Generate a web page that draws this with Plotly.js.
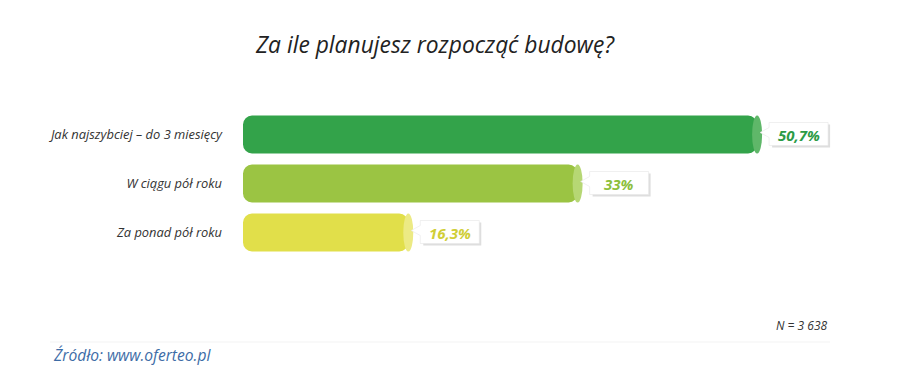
<!DOCTYPE html>
<html>
<head>
<meta charset="utf-8">
<script src="https://cdn.plot.ly/plotly-3.0.1.min.js"></script>
<style>html,body{margin:0;padding:0;background:#fff;}#chart{width:912px;height:378px;}</style>
</head>
<body>
<div id="chart"></div>
<script>
// ---- data ----
const categories = ["Jak najszybciej – do 3 miesięcy", "W ciągu pół roku", "Za ponad pół roku"];
const values = [50.7, 33, 16.3];
const valueLabels = ["50,7%", "33%", "16,3%"];
const titleText = "Za ile planujesz rozpocząć budowę?";
const sampleText = "N = 3 638";
const sourceText = "Źródło: www.oferteo.pl";

// ---- style ----
const barColors = ["#33a34a", "#9bc443", "#e1df4a"];
const capColors = ["#5fb769", "#b6d774", "#ecea84"];
const textColors = ["#2c9b46", "#8dbf3c", "#d0ce37"];
const FONT = "'Open Sans', Lato, sans-serif";

const W = 912, H = 378;
const mL = 243, mR = 61, mT = 110, mB = 121;
const pw = W - mL - mR, ph = H - mT - mB;
const px2x = p => (p - mL) / pw;
const px2y = p => (H - mB - p) / ph;
const bargap = 0.224;
const half = (1 - bargap) / 2;

const trace = {
  type: "bar",
  orientation: "h",
  y: categories,
  x: values.map(v => -v),
  base: values,
  marker: { color: barColors, cornerradius: 9 },
  hoverinfo: "skip"
};

const shapes = [];
const annotations = [];
values.forEach((v, i) => {
  // cylinder cap
  shapes.push({
    type: "circle", xref: "x", yref: "y",
    xsizemode: "pixel", xanchor: v, x0: -5, x1: 5,
    y0: i - half, y1: i + half,
    fillcolor: capColors[i], line: { width: 0 }, layer: "above"
  });
  // callout shadow
  shapes.push({
    type: "path", xref: "x", yref: "y",
    xsizemode: "pixel", xanchor: v, ysizemode: "pixel", yanchor: i,
    path: "M 15,10 L 73,10 L 73,-13 L 15,-13 Z",
    fillcolor: "#dedede", line: { width: 0 }
  });
  // callout box with pointer
  shapes.push({
    type: "path", xref: "x", yref: "y",
    xsizemode: "pixel", xanchor: v, ysizemode: "pixel", yanchor: i,
    path: "M 12,12 L 71,12 L 71,-11 L 12,-11 L 12,-3 L 3,2 L 12,7 Z",
    fillcolor: "#ffffff", line: { color: "#e6e6e6", width: 0.6 }
  });
  annotations.push({
    x: v, y: categories[i], xref: "x", yref: "y",
    xanchor: "center", yanchor: "middle", xshift: 41.5, yshift: 0,
    text: "<b>" + valueLabels[i] + "</b>", showarrow: false,
    font: { family: FONT, size: 15, color: textColors[i], style: "italic" }
  });
});

shapes.push({
  type: "line", xref: "paper", yref: "paper",
  x0: px2x(50), x1: px2x(830), y0: px2y(342), y1: px2y(342),
  line: { color: "#f3f3f3", width: 1 }
});

annotations.push({
  xref: "paper", yref: "paper", x: px2x(829), y: px2y(325),
  xanchor: "right", yanchor: "middle", showarrow: false,
  text: sampleText,
  font: { family: FONT, size: 12, color: "#333333", style: "italic" }
});
annotations.push({
  xref: "paper", yref: "paper", x: px2x(51), y: px2y(355),
  xanchor: "left", yanchor: "middle", showarrow: false,
  text: sourceText,
  font: { family: FONT, size: 15.6, color: "#3d6ca6", style: "italic" }
});

const layout = {
  width: W, height: H,
  margin: { l: mL, r: mR, t: mT, b: mB, pad: 0 },
  paper_bgcolor: "#ffffff", plot_bgcolor: "#ffffff",
  showlegend: false,
  bargap: bargap,
  title: {
    text: titleText, xref: "container", yref: "container",
    x: 435 / W, y: 1 - 45 / H, xanchor: "center", yanchor: "middle",
    font: { family: FONT, size: 22.8, color: "#222222", style: "italic" }
  },
  xaxis: { range: [0, pw / 10.14], showgrid: false, zeroline: false, showticklabels: false, showline: false, fixedrange: true },
  yaxis: {
    type: "category", autorange: "reversed", showgrid: false, zeroline: false, showline: false,
    ticks: "", ticklabelstandoff: 20,
    tickfont: { family: FONT, size: 12.9, color: "#333333", style: "italic" }
  },
  shapes: shapes,
  annotations: annotations
};

Plotly.newPlot("chart", [trace], layout, { displayModeBar: false, staticPlot: true });
</script>
</body>
</html>
